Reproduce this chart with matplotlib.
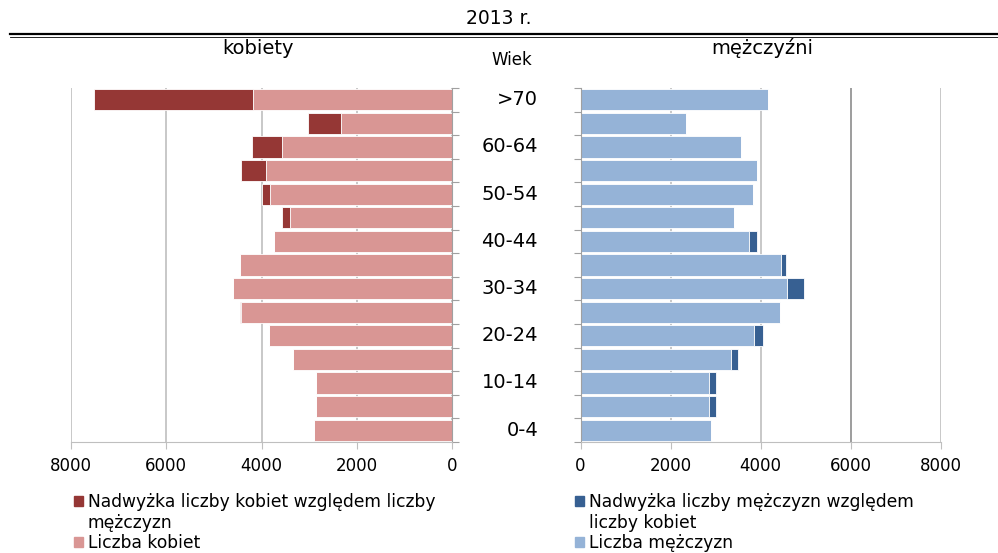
import matplotlib.pyplot as plt
from matplotlib.patches import Patch
from matplotlib.transforms import blended_transform_factory

ages = ["0-4", "5-9", "10-14", "15-19", "20-24", "25-29", "30-34", "35-39",
        "40-44", "45-49", "50-54", "55-59", "60-64", "65-69", ">70"]
women = [2890, 2850, 2850, 3330, 3840, 4450, 4590, 4450,
         3730, 3560, 3980, 4430, 4190, 3030, 7510]
men = [2900, 3010, 3010, 3500, 4050, 4430, 4950, 4560,
       3910, 3405, 3830, 3910, 3560, 2340, 4170]

women_light = "#D99694"
women_dark = "#953735"
men_light = "#95B3D7"
men_dark = "#376092"

common = [min(w, m) for w, m in zip(women, men)]
women_extra = [max(w - m, 0) for w, m in zip(women, men)]
men_extra = [max(m - w, 0) for w, m in zip(women, men)]

fig = plt.figure(figsize=(9.98, 5.53), dpi=100)
ax_w = fig.add_axes([71 / 998, 1 - 442 / 553, 381 / 998, 354 / 553])
ax_m = fig.add_axes([580.5 / 998, 1 - 442 / 553, 360.5 / 998, 354 / 553])

y = range(len(ages))
h = 0.9
ax_w.barh(y, common, height=h, color=women_light, edgecolor="white", linewidth=0.6)
ax_w.barh(y, women_extra, left=common, height=h, color=women_dark, edgecolor="white", linewidth=0.6)
ax_m.barh(y, common, height=h, color=men_light, edgecolor="white", linewidth=0.6)
ax_m.barh(y, men_extra, left=common, height=h, color=men_dark, edgecolor="white", linewidth=0.6)

ticks = [0, 2000, 4000, 6000, 8000]
for ax in (ax_w, ax_m):
    ax.set_ylim(-0.5, len(ages) - 0.5)
    ax.set_xticks(ticks)
    ax.set_xticklabels([str(t) for t in ticks], fontsize=12)
    ax.xaxis.grid(True, color="#BFBFBF", linewidth=1.2)
    ax.set_axisbelow(True)
    for s in ax.spines.values():
        s.set_visible(False)
    ax.spines["bottom"].set_visible(True)
    ax.spines["bottom"].set_color("#BFBFBF")
    ax.tick_params(axis="x", colors="#BFBFBF", length=5, labelcolor="black", pad=6)
    ax.set_yticks([i - 0.5 for i in range(len(ages) + 1)])
    ax.set_yticklabels([])
    ax.tick_params(axis="y", colors="#A0A0A0", length=5)

ax_w.set_xlim(8000, 0)
ax_m.set_xlim(0, 8000)
ax_w.yaxis.tick_right()
ax_w.spines["right"].set_visible(True)
ax_w.spines["right"].set_color("#A0A0A0")
ax_m.spines["left"].set_visible(True)
ax_m.spines["left"].set_color("#A0A0A0")
ax_m.get_xgridlines()[3].set_color("#8C8C8C")

# age labels in the middle, every second group
trans = blended_transform_factory(fig.transFigure, ax_w.transData)
for i, a in enumerate(ages):
    if i % 2 == 0:
        ax_w.text(538 / 998, i, a, transform=trans, ha="right", va="center", fontsize=14)

# titles
fig.text(0.5, 1 - 18 / 553, "2013 r.", ha="center", va="center", fontsize=13.5)
fig.add_artist(plt.Line2D([10 / 998, 1], [1 - 33.5 / 553] * 2, color="black", linewidth=1.6))
fig.add_artist(plt.Line2D([10 / 998, 1], [1 - 36.5 / 553] * 2, color="black", linewidth=0.6))
fig.text(258 / 998, 1 - 48 / 553, "kobiety", ha="center", va="center", fontsize=14)
fig.text(762 / 998, 1 - 48 / 553, "mężczyźni", ha="center", va="center", fontsize=14)
fig.text(512 / 998, 1 - 60 / 553, "Wiek", ha="center", va="center", fontsize=12)

# legends: second line of the long label gets an empty handle
blank = Patch(color="none")
leg_w = ([Patch(color=women_dark), blank, Patch(color=women_light)],
         ["Nadwyżka liczby kobiet względem liczby", "mężczyzn", "Liczba kobiet"])
leg_m = ([Patch(color=men_dark), blank, Patch(color=men_light)],
         ["Nadwyżka liczby mężczyzn względem", "liczby kobiet", "Liczba mężczyzn"])
for (handles, labels), x0 in ((leg_w, 74), (leg_m, 575)):
    fig.legend(handles, labels, loc="upper left", bbox_to_anchor=(x0 / 998, 1 - 493 / 553),
               frameon=False, fontsize=12.3, handlelength=0.55, handleheight=0.55,
               handletextpad=0.25, labelspacing=0.15, borderpad=0, borderaxespad=0)

fig.savefig("out.png", dpi=100)
